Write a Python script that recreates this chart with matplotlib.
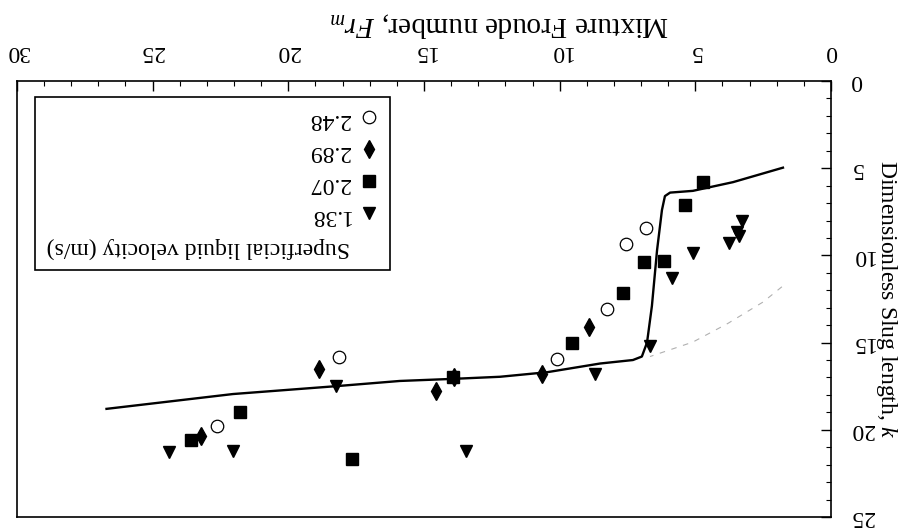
import matplotlib
matplotlib.use("Agg")
import matplotlib.pyplot as plt
from matplotlib.ticker import MultipleLocator
from matplotlib.lines import Line2D

plt.rcParams['font.family'] = ['Liberation Serif', 'DejaVu Serif']
plt.rcParams['mathtext.fontset'] = 'custom'
plt.rcParams['mathtext.rm'] = 'Liberation Serif'
plt.rcParams['mathtext.it'] = 'Liberation Serif:italic'

# superficial liquid velocity 1.38 m/s
fr_138 = [3.28, 3.39, 3.46, 3.76, 5.09, 5.86, 6.67, 8.70, 13.45, 18.25, 22.04, 24.40]
k_138 = [8.03, 8.89, 8.66, 9.29, 9.86, 11.30, 15.20, 16.80, 21.20, 17.50, 21.20, 21.30]
# 2.07 m/s
fr_207 = [4.72, 5.38, 6.16, 6.89, 7.67, 9.55, 13.93, 17.66, 21.78, 23.59]
k_207 = [5.79, 7.11, 10.32, 10.38, 12.16, 15.00, 17.00, 21.70, 19.00, 20.60]
# 2.89 m/s
fr_289 = [8.92, 10.65, 13.90, 14.56, 18.87, 23.22]
k_289 = [14.10, 16.80, 17.00, 17.80, 16.50, 20.35]
# 2.48 m/s
fr_248 = [6.82, 7.56, 8.26, 10.10, 18.13, 22.63]
k_248 = [8.43, 9.35, 13.07, 15.94, 15.80, 19.80]

# model curve (solid) and the thin dashed branch
fr_model = [1.77, 3.61, 5.09, 5.93, 6.12, 6.23, 6.41, 6.60, 6.78, 6.97, 7.30, 8.51,
            10.47, 12.20, 13.93, 15.89, 18.25, 22.04, 26.70]
k_model = [4.97, 5.80, 6.30, 6.40, 6.60, 7.40, 9.70, 12.90, 15.00, 15.80, 16.00, 16.20,
           16.70, 16.96, 17.08, 17.20, 17.50, 17.95, 18.80]
fr_dash = [1.81, 2.50, 3.80, 5.09, 6.67]
k_dash = [11.80, 12.67, 13.90, 14.97, 15.80]

fig = plt.figure(figsize=(9.07, 5.29), dpi=100)
ax = fig.add_axes([0.0187, 0.0227, 0.8975, 0.8242])

ax.plot(fr_model, k_model, color='black', lw=1.7)
ax.plot(fr_dash, k_dash, color='#b0b0b0', lw=0.8, dashes=(5, 6))

ax.plot(fr_138, k_138, 'v', color='black', ms=9, ls='none')
ax.plot(fr_207, k_207, 's', color='black', ms=8, ls='none')
ax.plot(fr_289, k_289, 'd', color='black', ms=9, ls='none')
ax.plot(fr_248, k_248, 'o', mfc='white', mec='black', mew=0.9, ms=9, ls='none')

# whole chart is shown upside down
ax.set_xlim(30, 0)
ax.set_ylim(25, 0)
ax.xaxis.set_major_locator(MultipleLocator(5))
ax.xaxis.set_minor_locator(MultipleLocator(1))
ax.yaxis.set_major_locator(MultipleLocator(5))
ax.yaxis.set_minor_locator(MultipleLocator(1))
ax.tick_params(which='both', direction='in', top=True, right=True, bottom=False, left=False,
               labeltop=True, labelright=True, labelbottom=False, labelleft=False)
ax.tick_params(which='major', length=7, width=1, pad=14, labelsize=17, labelrotation=180)
ax.tick_params(which='minor', length=3.5, width=0.8)
for t in ax.yaxis.get_majorticklabels():
    t.set_verticalalignment('center')
for s in ax.spines.values():
    s.set_linewidth(1.2)

ax.xaxis.set_label_position('top')
ax.set_xlabel('Mixture Froude number, $Fr_m$', fontsize=21, rotation=180, ha='center', va='bottom')
ax.xaxis.set_label_coords(0.593, 1.099)
ax.yaxis.set_label_position('right')
ax.set_ylabel('Dimensionless Slug length, $k$', fontsize=17, rotation=270,
              rotation_mode='default', ha='left', va='center')
ax.yaxis.set_label_coords(1.053, 0.5)

handles = [
    Line2D([], [], ls='none', marker='o', mfc='white', mec='black', mew=0.9, ms=9),
    Line2D([], [], ls='none', marker='d', color='black', ms=9),
    Line2D([], [], ls='none', marker='s', color='black', ms=8),
    Line2D([], [], ls='none', marker='v', color='black', ms=9),
    Line2D([], [], ls='none'),
]
labels = ['2.48', '2.89', '2.07', '1.38', 'Superficial liquid velocity (m/s)']
leg = ax.legend(handles, labels, loc='upper left', bbox_to_anchor=(0.0221, 0.963),
                borderaxespad=0, markerfirst=False, fancybox=False, framealpha=1,
                edgecolor='black', fontsize=17, handlelength=0.8, handletextpad=0.4,
                labelspacing=0.44, borderpad=0.5)
leg.get_frame().set_linewidth(1.2)
for t in leg.get_texts():
    t.set_rotation(180)

fig.savefig('out.png', dpi=100)
